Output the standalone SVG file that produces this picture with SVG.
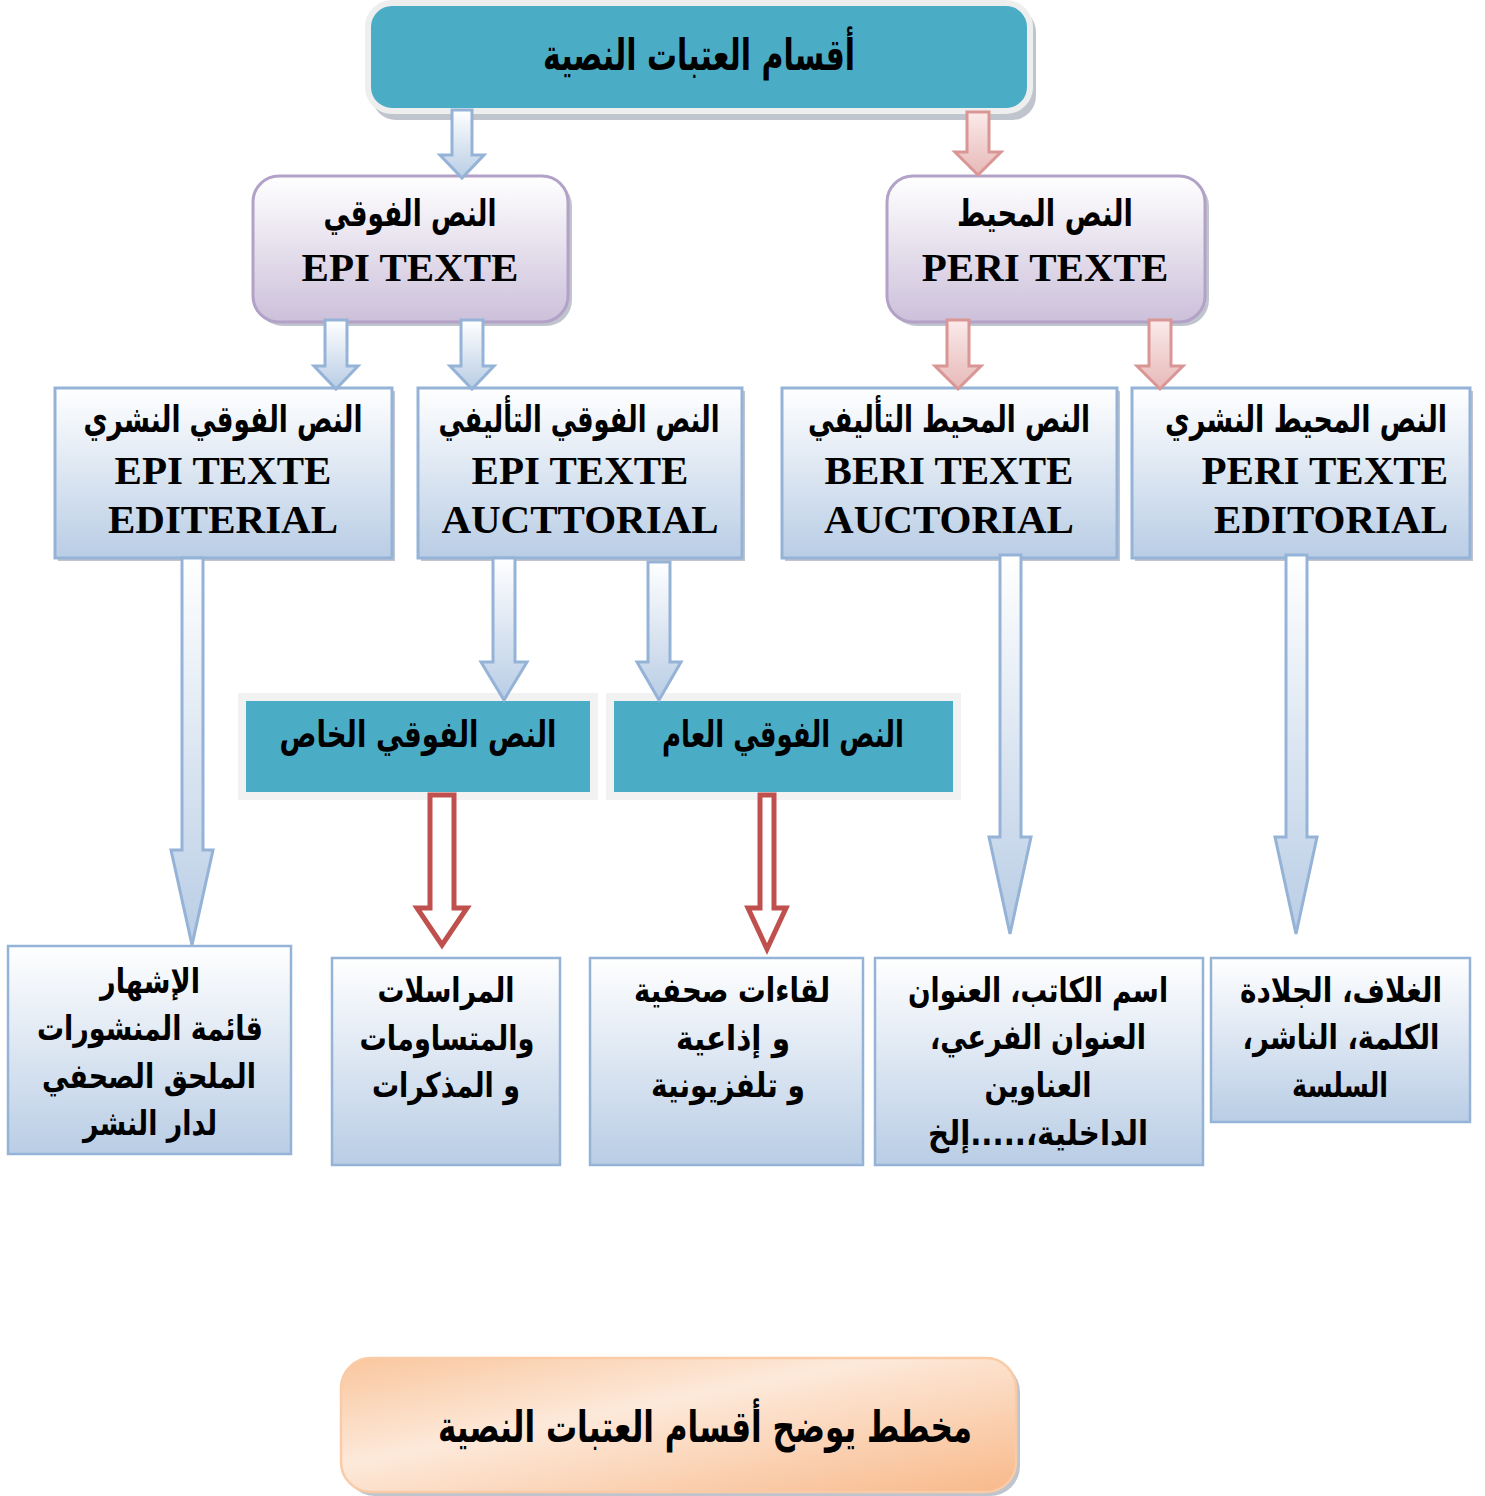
<svg xmlns="http://www.w3.org/2000/svg" width="1485" height="1496" viewBox="0 0 1485 1496">
<defs>
<linearGradient id="gBlue" x1="0" y1="0" x2="0" y2="1"><stop offset="0" stop-color="#ffffff"/><stop offset="1" stop-color="#b9cde5"/></linearGradient>
<linearGradient id="gLav" x1="0" y1="0" x2="0" y2="1"><stop offset="0" stop-color="#ffffff"/><stop offset="1" stop-color="#ccc0da"/></linearGradient>
<linearGradient id="gArrB" x1="0" y1="0" x2="0" y2="1"><stop offset="0" stop-color="#ffffff"/><stop offset="1" stop-color="#b9cde5"/></linearGradient>
<linearGradient id="gArrR" x1="0" y1="0" x2="0" y2="1"><stop offset="0" stop-color="#fbeaea"/><stop offset="1" stop-color="#e6b9b8"/></linearGradient>
<linearGradient id="gPeach" x1="0" y1="0" x2="1" y2="1"><stop offset="0" stop-color="#f9c69d"/><stop offset="0.4" stop-color="#fde9da"/><stop offset="1" stop-color="#f8b98a"/></linearGradient>
</defs>
<style>
.ar{font-family:"DejaVu Sans",sans-serif;font-weight:bold;fill:#000;text-anchor:middle;direction:rtl}
.en{font-family:"Liberation Serif",serif;font-weight:bold;fill:#000;text-anchor:middle;font-size:41px}
.shadow{fill:#8c96a4;opacity:0.55}
.lvl2{fill:url(#gBlue);stroke:#95b3d7;stroke-width:3}
.leaf{fill:url(#gBlue);stroke:#95b3d7;stroke-width:2.5}
.lav{fill:url(#gLav);stroke:#b3a2c7;stroke-width:3}
.teal{fill:#4bacc6}
.frame{fill:#f2f2f2}
.arrB{fill:url(#gArrB);stroke:#95b3d7;stroke-width:3;stroke-linejoin:miter}
.arrR{fill:url(#gArrR);stroke:#d99694;stroke-width:3}
.arrH{fill:#ffffff;stroke:#c0504d;stroke-width:5}
</style>

<g id="node-title">
<rect class="shadow" x="372" y="8" width="664" height="112" rx="24"/>
<rect x="368" y="3" width="662" height="108" rx="24" fill="#4bacc6" stroke="#eeeeee" stroke-width="6"/>
<text class="ar" x="699" y="70" font-size="44" textLength="312" lengthAdjust="spacingAndGlyphs">أقسام العتبات النصية</text>
</g>

<g id="node-epi">
<rect class="shadow" x="257" y="180" width="315" height="146" rx="26"/>
<rect class="lav" x="253" y="176" width="315" height="146" rx="26"/>
<text class="ar" x="410" y="226" font-size="37" textLength="173" lengthAdjust="spacingAndGlyphs">النص الفوقي</text>
<text class="en" x="410" y="281">EPI TEXTE</text>
</g>

<g id="node-peri">
<rect class="shadow" x="891" y="180" width="318" height="146" rx="26"/>
<rect class="lav" x="887" y="176" width="318" height="146" rx="26"/>
<text class="ar" x="1045" y="226" font-size="37" textLength="176" lengthAdjust="spacingAndGlyphs">النص المحيط</text>
<text class="en" x="1045" y="281">PERI TEXTE</text>
</g>

<g id="node-epi-editorial">
<rect class="shadow" x="58" y="391" width="337" height="170"/>
<rect class="lvl2" x="55" y="388" width="337" height="170"/>
<text class="ar" x="223" y="432" font-size="37" textLength="279" lengthAdjust="spacingAndGlyphs">النص الفوقي النشري</text>
<text class="en" x="223" y="484">EPI TEXTE</text>
<text class="en" x="223" y="533">EDITERIAL</text>
</g>

<g id="node-epi-auctorial">
<rect class="shadow" x="421" y="391" width="324" height="170"/>
<rect class="lvl2" x="418" y="388" width="324" height="170"/>
<text class="ar" x="579" y="432" font-size="37" textLength="281" lengthAdjust="spacingAndGlyphs">النص الفوقي التأليفي</text>
<text class="en" x="580" y="484">EPI TEXTE</text>
<text class="en" x="580" y="533">AUCTTORIAL</text>
</g>

<g id="node-peri-auctorial">
<rect class="shadow" x="785" y="391" width="335" height="170"/>
<rect class="lvl2" x="782" y="388" width="335" height="170"/>
<text class="ar" x="949" y="432" font-size="37" textLength="282" lengthAdjust="spacingAndGlyphs">النص المحيط التأليفي</text>
<text class="en" x="949" y="484">BERI TEXTE</text>
<text class="en" x="949" y="533">AUCTORIAL</text>
</g>

<g id="node-peri-editorial">
<rect class="shadow" x="1135" y="391" width="338" height="170"/>
<rect class="lvl2" x="1132" y="388" width="338" height="170"/>
<text class="ar" x="1306" y="432" font-size="37" textLength="282" lengthAdjust="spacingAndGlyphs">النص المحيط النشري</text>
<text class="en" x="1448" y="484" style="text-anchor:end">PERI TEXTE</text>
<text class="en" x="1448" y="533" style="text-anchor:end">EDITORIAL</text>
</g>

<g id="node-epi-special">
<rect class="frame" x="238" y="693" width="360" height="107"/>
<rect class="teal" x="246" y="701" width="344" height="91"/>
<text class="ar" x="418" y="747" font-size="37" textLength="277" lengthAdjust="spacingAndGlyphs">النص الفوقي الخاص</text>
</g>

<g id="node-epi-public">
<rect class="frame" x="606" y="693" width="355" height="107"/>
<rect class="teal" x="614" y="701" width="339" height="91"/>
<text class="ar" x="783" y="747" font-size="37" textLength="242" lengthAdjust="spacingAndGlyphs">النص الفوقي العام</text>
</g>

<g id="node-leaf-1">
<rect class="leaf" x="8" y="946" width="283" height="208"/>
<text class="ar" x="150" y="993" font-size="34" textLength="100" lengthAdjust="spacingAndGlyphs">الإشهار</text>
<text class="ar" x="150" y="1040" font-size="34" textLength="226" lengthAdjust="spacingAndGlyphs">قائمة المنشورات</text>
<text class="ar" x="149" y="1088" font-size="34" textLength="214" lengthAdjust="spacingAndGlyphs">الملحق الصحفي</text>
<text class="ar" x="150" y="1135" font-size="34" textLength="134" lengthAdjust="spacingAndGlyphs">لدار النشر</text>
</g>

<g id="node-leaf-2">
<rect class="leaf" x="332" y="958" width="228" height="207"/>
<text class="ar" x="446" y="1002" font-size="34" textLength="137" lengthAdjust="spacingAndGlyphs">المراسلات</text>
<text class="ar" x="447" y="1050" font-size="34" textLength="175" lengthAdjust="spacingAndGlyphs">والمتساومات</text>
<text class="ar" x="446" y="1097" font-size="34" textLength="148" lengthAdjust="spacingAndGlyphs">و المذكرات</text>
</g>

<g id="node-leaf-3">
<rect class="leaf" x="590" y="958" width="273" height="207"/>
<text class="ar" x="732" y="1002" font-size="34" textLength="196" lengthAdjust="spacingAndGlyphs">لقاءات صحفية</text>
<text class="ar" x="733" y="1050" font-size="34" textLength="114" lengthAdjust="spacingAndGlyphs">و إذاعية</text>
<text class="ar" x="728" y="1097" font-size="34" textLength="154" lengthAdjust="spacingAndGlyphs">و تلفزيونية</text>
</g>

<g id="node-leaf-4">
<rect class="leaf" x="875" y="958" width="328" height="207"/>
<text class="ar" x="1038" y="1002" font-size="34" textLength="260" lengthAdjust="spacingAndGlyphs">اسم الكاتب، العنوان</text>
<text class="ar" x="1038" y="1049" font-size="34" textLength="216" lengthAdjust="spacingAndGlyphs">العنوان الفرعي،</text>
<text class="ar" x="1038" y="1097" font-size="34" textLength="107" lengthAdjust="spacingAndGlyphs">العناوين</text>
<text class="ar" x="1038" y="1145" font-size="34" textLength="220" lengthAdjust="spacingAndGlyphs">الداخلية،.....إلخ</text>
</g>

<g id="node-leaf-5">
<rect class="leaf" x="1211" y="958" width="259" height="164"/>
<text class="ar" x="1341" y="1002" font-size="34" textLength="202" lengthAdjust="spacingAndGlyphs">الغلاف، الجلادة</text>
<text class="ar" x="1341" y="1049" font-size="34" textLength="197" lengthAdjust="spacingAndGlyphs">الكلمة، الناشر،</text>
<text class="ar" x="1340" y="1097" font-size="34" textLength="96" lengthAdjust="spacingAndGlyphs">السلسة</text>
</g>

<g id="node-caption">
<rect class="shadow" x="345" y="1362" width="675" height="134" rx="30"/>
<rect x="341" y="1358" width="675" height="134" rx="30" fill="url(#gPeach)" stroke="#f9cba6" stroke-width="2.5"/>
<text class="ar" x="705" y="1442" font-size="44" textLength="534" lengthAdjust="spacingAndGlyphs">مخطط يوضح أقسام العتبات النصية</text>
</g>

<g id="connectors">
<path class="arrB" d="M452,110 L472,110 L472,155 L484,155 L462,178 L440,155 L452,155 Z"/>
<path class="arrR" d="M967,112 L989,112 L989,152 L1001,152 L978,175 L955,152 L967,152 Z"/>
<path class="arrB" d="M325,320 L347,320 L347,366 L358,366 L336,389 L314,366 L325,366 Z"/>
<path class="arrB" d="M461,320 L483,320 L483,366 L494,366 L472,389 L450,366 L461,366 Z"/>
<path class="arrR" d="M947,320 L969,320 L969,366 L981,366 L958,389 L935,366 L947,366 Z"/>
<path class="arrR" d="M1149,320 L1171,320 L1171,366 L1183,366 L1160,389 L1137,366 L1149,366 Z"/>
<path class="arrB" d="M493,558 L515,558 L515,662 L527,662 L504,700 L481,662 L493,662 Z"/>
<path class="arrB" d="M648,562 L670,562 L670,662 L681,662 L659,700 L637,662 L648,662 Z"/>
<path class="arrB" d="M182,558 L203,558 L203,850 L213,850 L192,945 L171,850 L182,850 Z"/>
<path class="arrB" d="M1000,555 L1021,555 L1021,837 L1031,837 L1010,934 L989,837 L1000,837 Z"/>
<path class="arrB" d="M1286,555 L1307,555 L1307,837 L1317,837 L1296,934 L1275,837 L1286,837 Z"/>
<path class="arrH" d="M430,795 L454,795 L454,908 L467,908 L442,945 L417,908 L430,908 Z"/>
<path class="arrH" d="M760,795 L774,795 L774,908 L786,908 L767,949 L748,908 L760,908 Z"/>
</g>
</svg>
